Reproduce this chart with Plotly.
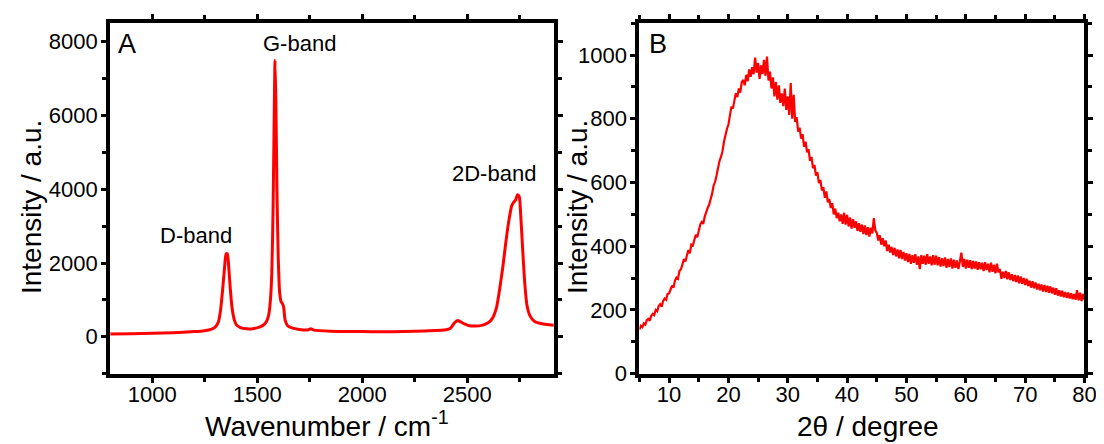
import plotly.graph_objects as go

# ---------------- Panel A: Raman spectrum ----------------
raman_wavenumber = [800, 900, 1000, 1100, 1200, 1250, 1280, 1300, 1315, 1325, 1335, 1345, 1352, 1358,
                    1365, 1372, 1380, 1390, 1400, 1420, 1450, 1480, 1510, 1530, 1545, 1555, 1563, 1570,
                    1576, 1581, 1585, 1589, 1594, 1600, 1607, 1614, 1620, 1626, 1633, 1645, 1665, 1700,
                    1740, 1755, 1770, 1850, 2000, 2100, 2200, 2300, 2400, 2420, 2440, 2455, 2470, 2490,
                    2510, 2540, 2570, 2600, 2620, 2640, 2655, 2670, 2685, 2700, 2712, 2722, 2730, 2740,
                    2748, 2756, 2765, 2775, 2785, 2800, 2820, 2850, 2880, 2915]
raman_intensity = [75, 85, 95, 110, 140, 165, 200, 260, 400, 700, 1250, 1900, 2250, 2250,
                   1850, 1300, 800, 480, 330, 250, 215, 220, 260, 320, 420, 600, 1000, 1800,
                   3600, 6000, 7500, 6400, 4000, 2200, 1200, 950, 900, 800, 450, 300, 240, 200,
                   185, 215, 180, 150, 140, 135, 140, 160, 190, 230, 380, 440, 400, 340,
                   300, 290, 310, 380, 500, 800, 1300, 1900, 2600, 3200, 3550, 3650, 3700, 3850,
                   3800, 3200, 2300, 1400, 850, 560, 420, 360, 330, 310]
raman_labels = ["D-band", "G-band", "2D-band"]
raman_label_x = [1209, 1700, 2629]
raman_label_y = [2750, 7950, 4420]

# ---------------- Panel B: XRD pattern (0.25 degree steps, 5 -> 80) ----------------
xrd_two_theta = [5.0 + 0.25 * i for i in range(301)]
xrd_intensity = [
    138, 150, 146, 158, 154, 168, 172, 166, 182, 188, 184, 200, 196, 212, 218, 210, 228, 236, 232, 250,   # 5-9.75
    252, 268, 276, 270, 292, 302, 298, 322, 328, 342, 360, 352, 372, 388, 378, 405, 402, 418, 436, 428,   # 10-14.75
    448, 468, 476, 470, 492, 508, 520, 530, 545, 565, 590, 602, 622, 648, 668, 680, 698, 728, 750, 768,   # 15-19.75
    782, 815, 838, 832, 855, 880, 868, 895, 882, 915, 922, 905, 938, 918, 955, 932, 962, 940, 992, 945,   # 20-24.75
    975, 925, 968, 940, 985, 935, 995, 920, 948, 895, 930, 870, 915, 860, 905, 850, 880, 840, 895, 828,   # 25-29.75
    870, 812, 912, 800, 875, 790, 805, 760, 772, 738, 752, 712, 728, 695, 705, 668, 680, 645, 655, 622,   # 30-34.75
    632, 598, 608, 575, 585, 552, 572, 538, 548, 520, 535, 500, 518, 488, 505, 478, 500, 470, 505, 468,   # 35-39.75
    498, 462, 490, 455, 485, 458, 478, 448, 472, 445, 468, 438, 465, 435, 460, 430, 458, 440, 488, 450,   # 40-44.75
    442, 418, 435, 405, 425, 400, 418, 385, 405, 380, 398, 372, 395, 368, 390, 362, 388, 360, 382, 355,   # 45-49.75
    378, 350, 376, 345, 372, 348, 375, 342, 368, 328, 372, 345, 370, 342, 375, 345, 368, 340, 372, 342,   # 50-54.75
    370, 340, 366, 336, 362, 338, 365, 332, 360, 335, 362, 330, 358, 332, 355, 328, 352, 380, 335, 360,   # 55-59.75
    330, 358, 332, 356, 328, 354, 330, 352, 326, 350, 328, 348, 322, 350, 325, 345, 318, 348, 320, 342,   # 60-64.75
    315, 345, 318, 328, 298, 320, 300, 322, 296, 318, 294, 312, 290, 310, 288, 308, 284, 305, 282, 300,   # 65-69.75
    278, 298, 275, 292, 270, 290, 268, 286, 264, 282, 262, 280, 258, 278, 256, 276, 254, 274, 252, 270,   # 70-74.75
    248, 268, 245, 262, 242, 260, 240, 256, 238, 255, 236, 252, 234, 250, 232, 262, 230, 254, 228, 250,   # 75-79.75
    232]                                                                                                  # 80

RED = "#ff0000"
FONT = "Liberation Sans, Arial, sans-serif"
TICK_SIZE = 22
TITLE_SIZE = 28

fig = go.Figure()
fig.add_trace(go.Scatter(x=raman_wavenumber, y=raman_intensity, mode="lines",
                         line=dict(color=RED, width=3, shape="spline", smoothing=0.6),
                         xaxis="x", yaxis="y", showlegend=False))
fig.add_trace(go.Scatter(x=xrd_two_theta, y=xrd_intensity, mode="lines",
                         line=dict(color=RED, width=2.2),
                         xaxis="x2", yaxis="y2", showlegend=False))

def axis_style(standoff, **kw):
    base = dict(showline=True, linecolor="black", linewidth=4, mirror="allticks",
                ticks="outside", ticklen=5, tickwidth=3, tickcolor="black",
                showgrid=False, zeroline=False, ticklabelstandoff=standoff,
                tickfont=dict(family=FONT, size=TICK_SIZE, color="black"))
    base.update(kw)
    return base

def minor(dt):
    return dict(dtick=dt, tick0=0, ticklen=4, tickwidth=3, ticks="outside", tickcolor="black")

ydom = [0.1516, 0.9662]
fig.update_layout(
    width=1104, height=444, autosize=False,
    margin=dict(l=0, r=0, t=0, b=0),
    paper_bgcolor="white", plot_bgcolor="white",
    font=dict(family=FONT, color="black"),
    xaxis=axis_style(-7, domain=[0.0936, 0.4997], range=[800, 2912], tick0=1000, dtick=500,
                     minor=minor(250), anchor="y"),
    yaxis=axis_style(-1, domain=ydom, range=[-1000, 8520], tick0=0, dtick=2000,
                     minor=minor(1000), anchor="x"),
    xaxis2=axis_style(-7, domain=[0.5782, 0.9858], range=[5, 80], tick0=0, dtick=10,
                      minor=minor(5), anchor="y2"),
    yaxis2=axis_style(-1, domain=ydom, range=[0, 1102], tick0=0, dtick=200,
                      minor=minor(100), anchor="x2"),
)

# axis titles
axis_titles = [
    dict(text="Wavenumber / cm<sup>-1</sup>", x=0.292, y=0.034, angle=0),
    dict(text="Intensity / a.u.", x=0.021, y=0.538, angle=-90),
    dict(text="2θ / degree", x=0.788, y=0.030, angle=0),
    dict(text="Intensity / a.u.", x=0.521, y=0.538, angle=-90),
]
for t in axis_titles:
    fig.add_annotation(x=t["x"], y=t["y"], xref="paper", yref="paper", text=t["text"],
                       textangle=t["angle"], showarrow=False, xanchor="center", yanchor="middle",
                       font=dict(family=FONT, size=TITLE_SIZE, color="black"))

for txt, xv, yv in zip(raman_labels, raman_label_x, raman_label_y):
    fig.add_annotation(x=xv, y=yv, xref="x", yref="y", text=txt, showarrow=False,
                       font=dict(family=FONT, size=TICK_SIZE, color="black"))

fig.add_annotation(x=0.012, y=0.94, xref="x domain", yref="y domain", text="A", showarrow=False,
                   xanchor="left", yanchor="middle", font=dict(family=FONT, size=27, color="black"))
fig.add_annotation(x=0.018, y=0.94, xref="x2 domain", yref="y2 domain", text="B", showarrow=False,
                   xanchor="left", yanchor="middle", font=dict(family=FONT, size=27, color="black"))

fig.write_html("out.html")
